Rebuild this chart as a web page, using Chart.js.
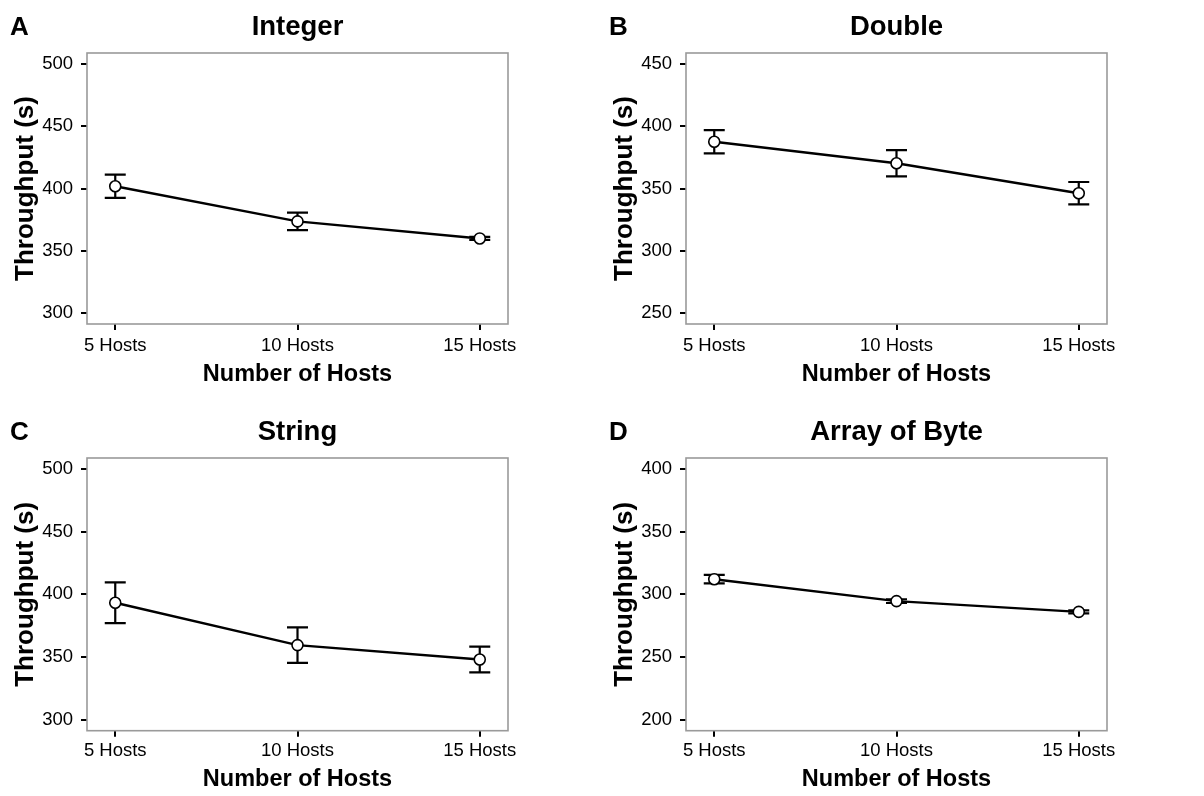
<!DOCTYPE html>
<html>
<head>
<meta charset="utf-8">
<script src="https://cdn.jsdelivr.net/npm/chart.js@4.4.1/dist/chart.umd.min.js"></script>
<style>
  html, body { margin: 0; padding: 0; background: #fff; }
  body { width: 1204px; height: 796px; position: relative; overflow: hidden; }
  .panel { position: absolute; width: 602px; }
  .panel canvas { display: block; }
</style>
</head>
<body>
<div class="panel" id="pA" style="left:0;top:0;height:398px"><canvas id="chartA"></canvas></div>
<div class="panel" id="pB" style="left:599px;top:0;height:398px"><canvas id="chartB"></canvas></div>
<div class="panel" id="pC" style="left:0;top:405px;height:391px"><canvas id="chartC"></canvas></div>
<div class="panel" id="pD" style="left:599px;top:405px;height:391px"><canvas id="chartD"></canvas></div>
<script>
// Host counts on the x axis
const hostLabels = ['5 Hosts', '10 Hosts', '15 Hosts'];

// Mean throughput and error (+/-) per data type
const integerMeans = [401.8, 373.6, 359.9];
const integerErrors = [9.4, 7.0, 1.2];
const doubleMeans = [387.5, 370.3, 346.2];
const doubleErrors = [9.3, 10.5, 9.0];
const stringMeans = [393.3, 359.5, 348.0];
const stringErrors = [16.3, 14.1, 10.3];
const byteMeans = [312.1, 294.6, 286.0];
const byteErrors = [3.4, 1.5, 1.2];

// y tick ranges [first, last] for each panel
const integerTicks = [300, 500];
const doubleTicks = [250, 450];
const stringTicks = [300, 500];
const byteTicks = [200, 400];

const FONT = "'Liberation Sans', Arial, Helvetica, sans-serif";

// panel letter in the top-left corner
const letterPlugin = {
    id: 'panelLetter',
    afterDraw(chart, args, opts) {
        const ctx = chart.ctx;
        ctx.save();
        ctx.fillStyle = '#000';
        ctx.font = `bold 26px ${FONT}`;
        ctx.textBaseline = 'alphabetic';
        ctx.textAlign = 'left';
        ctx.fillText(opts.text, opts.x, 35);
        ctx.restore();
    }
};

// grey frame round the plotting area
const framePlugin = {
    id: 'panelFrame',
    beforeDatasetsDraw(chart) {
        const { ctx, chartArea: a } = chart;
        ctx.save();
        ctx.strokeStyle = '#9a9a9a';
        ctx.lineWidth = 1.6;
        ctx.strokeRect(a.left, a.top, a.right - a.left, a.bottom - a.top);
        ctx.restore();
    }
};

// vertical error bars with caps, drawn under the points
const errorBarPlugin = {
    id: 'errorBars',
    beforeDatasetsDraw(chart, args, opts) {
        const { ctx, scales: { x, y } } = chart;
        const means = chart.data.datasets[0].data;
        ctx.save();
        ctx.strokeStyle = '#000';
        ctx.lineWidth = 2.2;
        means.forEach((pt, i) => {
            const err = opts.errors[i];
            const px = x.getPixelForValue(pt.x);
            const top = y.getPixelForValue(pt.y + err);
            const bot = y.getPixelForValue(pt.y - err);
            ctx.beginPath();
            ctx.moveTo(px, top);
            ctx.lineTo(px, bot);
            ctx.moveTo(px - 10.5, top);
            ctx.lineTo(px + 10.5, top);
            ctx.moveTo(px - 10.5, bot);
            ctx.lineTo(px + 10.5, bot);
            ctx.stroke();
        });
        ctx.restore();
    }
};

function makePanel(canvasId, title, letter, means, errors, tickRange, xAxisHeight, labelPad, xTitlePad) {
    const ctx = document.getElementById(canvasId).getContext('2d');
    return new Chart(ctx, {
        type: 'line',
        data: {
            datasets: [{
                data: means.map((v, i) => ({ x: i, y: v })),
                borderColor: '#000',
                borderWidth: 2.4,
                pointRadius: 5.5,
                pointBackgroundColor: '#fff',
                pointBorderColor: '#000',
                pointBorderWidth: 1.6,
                tension: 0
            }]
        },
        options: {
            responsive: true,
            maintainAspectRatio: false,
            animation: false,
            layout: { padding: { left: 0, right: 94, top: 0, bottom: 0 } },
            plugins: {
                legend: { display: false },
                tooltip: { enabled: false },
                title: {
                    display: true,
                    text: title,
                    fullSize: false,
                    color: '#000',
                    font: { family: FONT, size: 27.5, weight: 'bold' },
                    padding: { top: 11.2, bottom: 8.8 }
                },
                panelLetter: { text: letter, x: 10 },
                errorBars: { errors: errors }
            },
            scales: {
                x: {
                    type: 'linear',
                    min: -0.155,
                    max: 2.155,
                    border: { display: false },
                    grid: { drawOnChartArea: false, drawTicks: true, tickLength: 6, color: '#000', lineWidth: 2 },
                    ticks: {
                        stepSize: 1,
                        includeBounds: false,
                        color: '#000',
                        padding: labelPad,
                        maxRotation: 0,
                        font: { family: FONT, size: 18.5 },
                        callback: (v) => hostLabels[v] ?? ''
                    },
                    title: {
                        display: true,
                        text: 'Number of Hosts',
                        color: '#000',
                        font: { family: FONT, size: 23.5, weight: 'bold' },
                        padding: { top: 0, bottom: xTitlePad }
                    },
                    afterFit(scale) { scale.height = xAxisHeight; }
                },
                y: {
                    min: tickRange[0] - 8.8,
                    max: tickRange[1] + 8.8,
                    border: { display: false },
                    grid: { drawOnChartArea: false, drawTicks: true, tickLength: 6, color: '#000', lineWidth: 2 },
                    ticks: {
                        stepSize: 50,
                        includeBounds: false,
                        color: '#000',
                        padding: 8,
                        font: { family: FONT, size: 18.5 }
                    },
                    title: {
                        display: true,
                        text: 'Throughput (s)',
                        color: '#000',
                        font: { family: FONT, size: 26, weight: 'bold' },
                        padding: { top: 10.4, bottom: 0 }
                    },
                    afterFit(scale) { scale.width = 87; }
                }
            }
        },
        plugins: [letterPlugin, framePlugin, errorBarPlugin]
    });
}

makePanel('chartA', 'Integer', 'A', integerMeans, integerErrors, integerTicks, 74, 5, 9);
makePanel('chartB', 'Double', 'B', doubleMeans, doubleErrors, doubleTicks, 74, 5, 9);
makePanel('chartC', 'String', 'C', stringMeans, stringErrors, stringTicks, 65.3, 3, 2.5);
makePanel('chartD', 'Array of Byte', 'D', byteMeans, byteErrors, byteTicks, 65.3, 3, 2.5);
</script>
</body>
</html>
